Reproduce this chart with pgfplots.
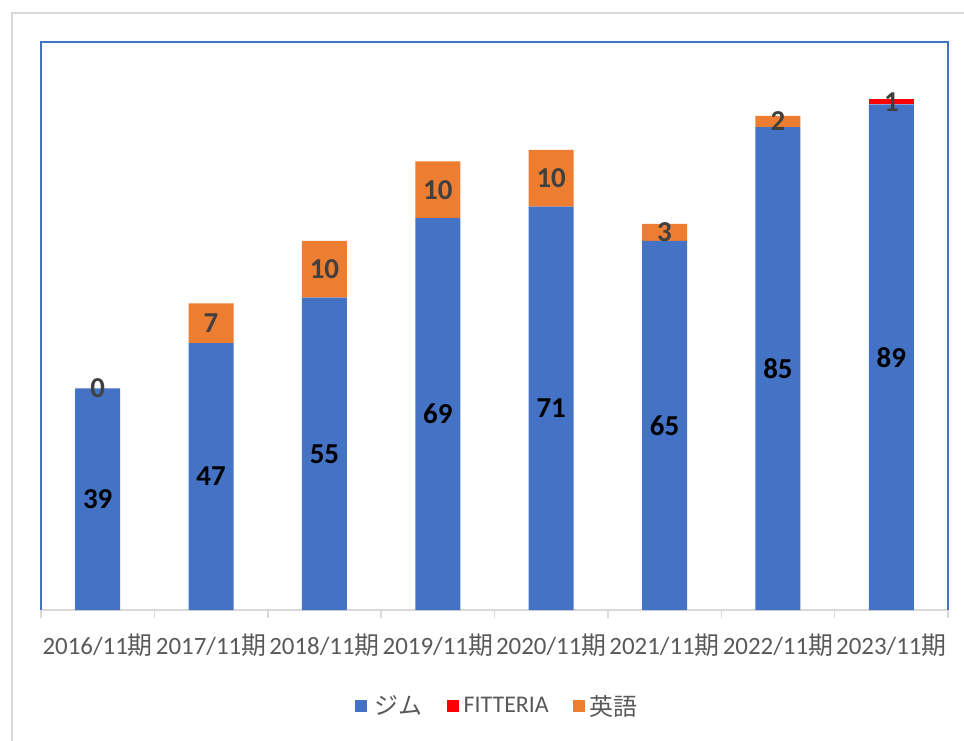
\documentclass[border=0pt]{standalone}
\usepackage{fontspec}
\setmainfont{Carlito}
\newfontfamily\jp{Noto Sans CJK JP}
\usepackage{pgfplots}
\pgfplotsset{compat=1.18}
\definecolor{c1}{HTML}{4472C4}
\definecolor{c2}{HTML}{FF0000}
\definecolor{c3}{HTML}{ED7D31}
\definecolor{tx}{HTML}{595959}
\definecolor{lb}{HTML}{404040}
\definecolor{fr}{HTML}{D9D9D9}
\begin{document}
\begin{tikzpicture}
\useasboundingbox (0,0) rectangle (964bp,741bp);
\fill[white] (0,0) rectangle (964bp,741bp);
\draw[fr, line width=2.5bp] (12bp,0) -- (12bp,728bp) -- (964bp,728bp);
\begin{axis}[
  at={(41bp,131bp)}, anchor=south west,
  scale only axis, width=907bp, height=568bp,
  xmin=-0.5, xmax=7.5, ymin=0, ymax=100,
  clip=false,
  ybar stacked, bar width=45bp,
  axis x line*=bottom, axis y line=none,
  x axis line style={fr, line width=1.5bp},
  xtick={0,...,7},
  xticklabels={2016/11{\jp 期},2017/11{\jp 期},2018/11{\jp 期},2019/11{\jp 期},2020/11{\jp 期},2021/11{\jp 期},2022/11{\jp 期},2023/11{\jp 期}},
  minor xtick={-0.5,0.5,...,7.5},
  major tick length=0pt, minor tick length=8bp, tick align=outside,
  minor tick style={fr, line width=1.5bp},
  x tick label style={font=\fontsize{25}{30}\selectfont, text=tx, anchor=base, yshift=-44bp},
  ytick=\empty,
  legend columns=3,
  legend style={at={(0.503,-0.169)}, anchor=center, draw=none, fill=none,
    font=\fontsize{24}{28}\selectfont, text=tx,
    /tikz/every even column/.append style={column sep=22bp}},
  legend cell align=left,
]
\addplot[fill=c1, draw=none, legend image code/.code={\fill[c1] (0bp,-6bp) rectangle (12bp,6bp); \path (18bp,0bp);}]
  coordinates {(0,39) (1,47) (2,55) (3,69) (4,71) (5,65) (6,85) (7,89)};
\addlegendentry{\jp ジム}
\addplot[fill=c2, draw=none, legend image code/.code={\fill[c2] (0bp,-6bp) rectangle (12bp,6bp); \path (15bp,0bp);}]
  coordinates {(0,0) (1,0) (2,0) (3,0) (4,0) (5,0) (6,0) (7,1)};
\addlegendentry{FITTERIA}
\addplot[fill=c3, draw=none, legend image code/.code={\fill[c3] (0bp,-6bp) rectangle (12bp,6bp); \path (15bp,0bp);}]
  coordinates {(0,0) (1,7) (2,10) (3,10) (4,10) (5,3) (6,2) (7,0)};
\addlegendentry{\jp 英語}
\draw[c1, line width=2.5bp] (rel axis cs:0,0) -- (rel axis cs:0,1) -- (rel axis cs:1,1) -- (rel axis cs:1,0);
\end{axis}
\begin{axis}[
  at={(41bp,131bp)}, anchor=south west,
  scale only axis, width=907bp, height=568bp,
  xmin=-0.5, xmax=7.5, ymin=0, ymax=100,
  hide axis, clip=false,
  point meta=explicit symbolic,
  nodes near coords,
  nodes near coords style={anchor=center, font=\fontsize{29}{31}\selectfont\bfseries},
]
\addplot[draw=none, every node near coord/.append style={text=black}]
  coordinates {(0,19.5)[39] (1,23.5)[47] (2,27.5)[55] (3,34.5)[69] (4,35.5)[71] (5,32.5)[65] (6,42.5)[85] (7,44.5)[89]};
\addplot[draw=none, every node near coord/.append style={text=lb}]
  coordinates {(7,89.5)[1]};
\addplot[draw=none, every node near coord/.append style={text=lb}]
  coordinates {(0,39)[0] (1,50.5)[7] (2,60)[10] (3,74)[10] (4,76)[10] (5,66.5)[3] (6,86)[2]};
\end{axis}
\end{tikzpicture}
\end{document}
